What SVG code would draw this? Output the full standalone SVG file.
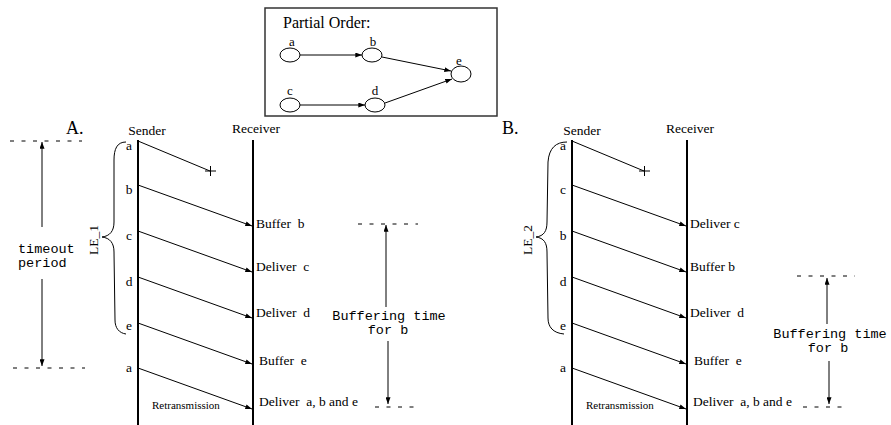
<svg xmlns="http://www.w3.org/2000/svg" width="891" height="425" viewBox="0 0 891 425">
<style>
.s{font-family:"Liberation Serif","Times New Roman",serif;fill:#000}
.m{font-family:"Liberation Mono","Courier New",monospace;fill:#000;font-size:13.5px}
.t{font-size:13.5px}
.life{stroke:#000;stroke-width:2;fill:none}
.msg{stroke:#000;stroke-width:1;fill:none;marker-end:url(#ah)}
.thin{stroke:#000;stroke-width:1;fill:none}
.dash{stroke:#000;stroke-width:1;stroke-dasharray:4 7.5;fill:none}
.nd{fill:#fff;stroke:#000;stroke-width:1}
</style>
<defs>
<marker id="ah" viewBox="0 0 8 6" refX="8" refY="3" markerWidth="7" markerHeight="5" orient="auto" markerUnits="userSpaceOnUse"><path d="M0,0 L8,3 L0,6 z" fill="#000"/></marker>
</defs>
<rect width="891" height="425" fill="#fff"/>

<!-- Partial order box -->
<g id="partial-order">
<rect x="265" y="8" width="232" height="108" fill="none" stroke="#333" stroke-width="1.5"/>
<text class="s" x="283" y="28" font-size="16">Partial Order:</text>
</g>
<g id="po-a"><ellipse class="nd" cx="290" cy="55" rx="10" ry="7"/><text class="s" x="292" y="46" font-size="13" text-anchor="middle">a</text></g>
<g id="po-b"><ellipse class="nd" cx="372" cy="55" rx="10" ry="7"/><text class="s" x="373" y="46" font-size="13" text-anchor="middle">b</text></g>
<g id="po-c"><ellipse class="nd" cx="290" cy="105" rx="10" ry="7"/><text class="s" x="290" y="95" font-size="13" text-anchor="middle">c</text></g>
<g id="po-d"><ellipse class="nd" cx="375" cy="105" rx="10" ry="7"/><text class="s" x="375" y="95" font-size="13" text-anchor="middle">d</text></g>
<g id="po-e"><ellipse class="nd" cx="461" cy="74" rx="10" ry="8"/><text class="s" x="459" y="65" font-size="13" text-anchor="middle">e</text></g>

<!-- A side -->
<g id="A-labels">
<text class="s" x="66" y="134" font-size="18">A.</text>
<text class="s t" x="147" y="135" text-anchor="middle">Sender</text>
<text class="s t" x="256" y="133" text-anchor="middle">Receiver</text>
</g>
<g id="A-sender"><line class="life" x1="138" y1="140" x2="138" y2="425"/>
<g class="s t" text-anchor="middle">
<text x="129" y="150">a</text><text x="129" y="194">b</text><text x="129" y="240">c</text>
<text x="129" y="286">d</text><text x="129" y="330">e</text><text x="129" y="372">a</text>
</g></g>
<g id="A-receiver"><line class="life" x1="253" y1="140" x2="253" y2="425"/>
<g class="s t">
<text x="256" y="228">Buffer&#160; b</text>
<text x="256" y="271">Deliver&#160; c</text>
<text x="256" y="317">Deliver&#160; d</text>
<text x="259" y="365">Buffer&#160; e</text>
<text x="259" y="406">Deliver&#160; a, b and e</text>
</g></g>
<g id="A-brace">
<path class="thin" d="M126,142 C117,142 114,149 114,160 L114,222 C114,231 110,236 102,237 C110,238 114,243 114,252 L115,320 C115,328 119,333 126,334"/>
<text class="s" x="0" y="0" font-size="13.5" transform="translate(98,240) rotate(-90)" text-anchor="middle">LE_1</text>
</g>
<text class="s" x="152" y="409" font-size="11">Retransmission</text>
<g id="A-timeout">
<line class="dash" x1="10" y1="141" x2="82" y2="141"/>
<line class="dash" x1="13" y1="368" x2="85" y2="368"/>
<text class="m" x="18" y="253">timeout</text>
<text class="m" x="18" y="267">period</text>
</g>
<g id="A-buffering">
<line class="dash" x1="358" y1="224" x2="418" y2="224"/>
<line class="dash" x1="375" y1="407" x2="420" y2="407"/>
<text class="m" x="389" y="320" text-anchor="middle">Buffering time</text>
<text class="m" x="388" y="334" text-anchor="middle">for b</text>
</g>

<!-- B side -->
<g id="B-labels">
<text class="s" x="502" y="134" font-size="18">B.</text>
<text class="s t" x="582" y="135" text-anchor="middle">Sender</text>
<text class="s t" x="690" y="133" text-anchor="middle">Receiver</text>
</g>
<g id="B-sender"><line class="life" x1="572" y1="140" x2="572" y2="425"/>
<g class="s t" text-anchor="middle">
<text x="563" y="150">a</text><text x="563" y="194">c</text><text x="563" y="240">b</text>
<text x="563" y="286">d</text><text x="563" y="330">e</text><text x="563" y="372">a</text>
</g></g>
<g id="B-receiver"><line class="life" x1="687" y1="140" x2="687" y2="425"/>
<g class="s t">
<text x="690" y="228">Deliver c</text>
<text x="690" y="271">Buffer b</text>
<text x="690" y="317">Deliver&#160; d</text>
<text x="694" y="365">Buffer&#160; e</text>
<text x="693" y="406">Deliver&#160; a, b and e</text>
</g></g>
<g id="B-brace">
<path class="thin" d="M567,142 C556,142 549,148 548,162 L547,222 C547,231 544,236 536,237 C544,238 547,243 547,252 L548,318 C548,327 553,333 564,334"/>
<text class="s" x="0" y="0" font-size="13.5" transform="translate(532,240) rotate(-90)" text-anchor="middle">LE_2</text>
</g>
<text class="s" x="586" y="409" font-size="11">Retransmission</text>
<g id="B-buffering">
<line class="dash" x1="797" y1="276" x2="855" y2="276"/>
<line class="dash" x1="803" y1="407" x2="848" y2="407"/>
<text class="m" x="830" y="338" text-anchor="middle">Buffering time</text>
<text class="m" x="828" y="352" text-anchor="middle">for b</text>
</g>

<g id="connectors">
<!-- partial order -->
<line class="msg" x1="300" y1="55" x2="362" y2="55"/>
<line class="msg" x1="300" y1="105" x2="365" y2="105"/>
<line class="msg" x1="382" y1="57" x2="451" y2="71"/>
<line class="msg" x1="385" y1="103" x2="452" y2="79"/>
<!-- A messages -->
<line class="thin" x1="138" y1="141" x2="210" y2="171"/>
<line class="thin" x1="205" y1="171" x2="216" y2="171"/><line class="thin" x1="210.5" y1="166" x2="210.5" y2="176"/>
<line class="msg" x1="138" y1="185" x2="252" y2="226"/>
<line class="msg" x1="138" y1="231" x2="252" y2="272"/>
<line class="msg" x1="138" y1="277" x2="252" y2="318"/>
<line class="msg" x1="138" y1="323" x2="252" y2="364"/>
<line class="msg" x1="138" y1="368" x2="252" y2="409"/>
<!-- A timing -->
<line class="msg" x1="42" y1="227" x2="42" y2="142"/>
<line class="msg" x1="42" y1="279" x2="42" y2="366"/>
<line class="msg" x1="386" y1="307" x2="386" y2="225"/>
<line class="msg" x1="388" y1="341" x2="388" y2="404"/>
<!-- B messages -->
<line class="thin" x1="572" y1="141" x2="644" y2="171"/>
<line class="thin" x1="639" y1="171" x2="650" y2="171"/><line class="thin" x1="644.5" y1="166" x2="644.5" y2="176"/>
<line class="msg" x1="572" y1="185" x2="686" y2="226"/>
<line class="msg" x1="572" y1="231" x2="686" y2="272"/>
<line class="msg" x1="572" y1="277" x2="686" y2="318"/>
<line class="msg" x1="572" y1="323" x2="686" y2="364"/>
<line class="msg" x1="572" y1="368" x2="686" y2="409"/>
<!-- B timing -->
<line class="msg" x1="827" y1="324" x2="827" y2="278"/>
<line class="msg" x1="829" y1="361" x2="829" y2="404"/>
</g>
</svg>
